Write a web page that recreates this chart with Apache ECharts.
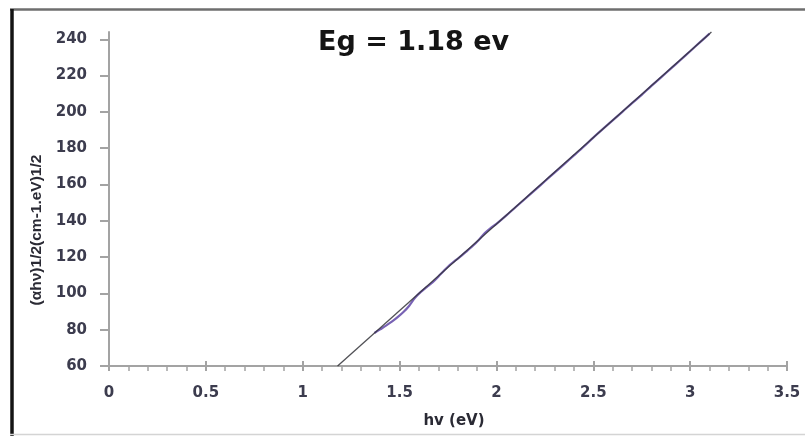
<!DOCTYPE html>
<html>
<head>
<meta charset="utf-8">
<script src="https://cdn.jsdelivr.net/npm/echarts@6/dist/echarts.min.js"></script>
<style>
  html, body { margin: 0; padding: 0; background: #fff; }
  #chart { width: 805px; height: 436px; }
</style>
</head>
<body>
<div id="chart"></div>
<script>
// Tauc plot: (αhν)^1/2 versus photon energy, with the linear fit giving Eg
const titleText = 'Eg = 1.18 ev';
const xTitle = 'hv (eV)';
const yTitle = '(αhν)1/2(cm-1.eV)1/2';

const yTickValues = [60, 80, 100, 120, 140, 160, 180, 200, 220, 240];

// measured curve: photon energy (eV)
const hv = [1.37, 1.40, 1.43, 1.46, 1.49, 1.52, 1.55, 1.58, 1.61, 1.64, 1.67, 1.70,
  1.73, 1.76, 1.79, 1.82, 1.85, 1.88, 1.91, 1.94, 1.97, 2.00, 2.05, 2.10, 2.15,
  2.20, 2.25, 2.30, 2.35, 2.40, 2.45, 2.50, 2.55, 2.60, 2.65, 2.70, 2.75, 2.80,
  2.85, 2.90, 2.95, 3.00, 3.05, 3.10];
// measured curve: (αhν)^1/2
const tauc = [78.2, 80.2, 82.2, 84.4, 86.9, 89.7, 93.2, 97.6, 100.8, 103.4, 106.0, 109.2,
  112.6, 115.8, 118.3, 120.8, 123.6, 126.4, 129.6, 133.2, 136.0, 138.3, 142.8, 147.6, 152.3,
  157.0, 161.8, 166.5, 171.2, 176.0, 180.8, 185.8, 190.6, 195.3, 200.0, 204.8, 209.4, 214.3,
  219.0, 223.8, 228.6, 233.4, 238.3, 243.1];

// linear fit (extrapolated towards the energy axis)
const fitX = [1.18, 3.11];
const fitY = [60, 244];

const curveData = hv.map((x, i) => [x, tauc[i]]);
const fitData = fitX.map((x, i) => [x, fitY[i]]);

const axisGray = '#a3a3a3';
const labelColor = '#3c3c4e';
const font = 'DejaVu Sans';

const chart = echarts.init(document.getElementById('chart'), null, { renderer: 'canvas' });

chart.setOption({
  backgroundColor: '#ffffff',
  animation: false,
  title: {
    text: titleText,
    left: 313,
    top: 24,
    textStyle: { fontFamily: font, fontSize: 27, fontWeight: 'bold', color: '#141414' }
  },
  grid: { left: 109, right: 18, top: 32, bottom: 70, containLabel: false },
  xAxis: [
    {
      type: 'value',
      min: 0,
      max: 3.5,
      interval: 0.5,
      position: 'bottom',
      name: xTitle,
      nameLocation: 'middle',
      nameGap: 48,
      nameTextStyle: { fontFamily: font, fontSize: 15, fontWeight: 'bold', color: '#2a2a34', padding: [0, 0, 0, 12] },
      axisLine: { show: true, lineStyle: { color: axisGray, width: 2 } },
      axisTick: { show: true, inside: false, length: 5, lineStyle: { color: axisGray, width: 2 } },
      minorTick: { show: true, splitNumber: 5, length: 5, lineStyle: { color: axisGray, width: 1.5 } },
      axisLabel: { fontFamily: font, fontSize: 15, fontWeight: 'bold', color: labelColor, margin: 20 },
      splitLine: { show: false },
      minorSplitLine: { show: false }
    },
    {
      // upper half of the major tick marks, which cross the axis line
      type: 'value',
      min: 0,
      max: 3.5,
      interval: 0.5,
      position: 'bottom',
      axisLine: { show: false },
      axisTick: { show: true, inside: true, length: 5, lineStyle: { color: axisGray, width: 2 } },
      axisLabel: { show: false },
      splitLine: { show: false }
    }
  ],
  yAxis: {
    type: 'value',
    min: 60,
    max: 244,
    axisLine: { show: true, lineStyle: { color: axisGray, width: 2 } },
    axisTick: { show: true, inside: false, length: 9, customValues: yTickValues, lineStyle: { color: axisGray, width: 2 } },
    axisLabel: { fontFamily: font, fontSize: 15, fontWeight: 'bold', color: labelColor, margin: 22, customValues: yTickValues },
    splitLine: { show: false }
  },
  graphic: [
    {
      type: 'text',
      x: 37,
      y: 230,
      rotation: Math.PI / 2,
      style: {
        text: yTitle,
        fontFamily: 'Liberation Sans',
        fontSize: 15.5,
        fontWeight: 'bold',
        fill: '#2a2a34',
        align: 'center',
        verticalAlign: 'middle'
      }
    },
    // picture frame
    { type: 'line', shape: { x1: 10, y1: 9.5, x2: 805, y2: 9.5 }, style: { stroke: '#6e6e6e', lineWidth: 2.5 } },
    { type: 'line', shape: { x1: 12, y1: 9, x2: 12, y2: 436 }, style: { stroke: '#141414', lineWidth: 3.5 } },
    { type: 'line', shape: { x1: 10, y1: 434.5, x2: 805, y2: 434.5 }, style: { stroke: '#d4d4d4', lineWidth: 1.5 } }
  ],
  series: [
    {
      name: 'measured',
      type: 'line',
      data: curveData,
      xAxisIndex: 0,
      showSymbol: false,
      symbol: 'none',
      smooth: 0.3,
      clip: false,
      lineStyle: { color: '#7862b4', width: 2.2 },
      z: 2
    },
    {
      name: 'fit',
      type: 'line',
      data: fitData,
      xAxisIndex: 0,
      showSymbol: false,
      symbol: 'none',
      clip: false,
      lineStyle: { color: '#333338', width: 1.3, opacity: 0.85 },
      z: 3
    }
  ]
});
</script>
</body>
</html>
